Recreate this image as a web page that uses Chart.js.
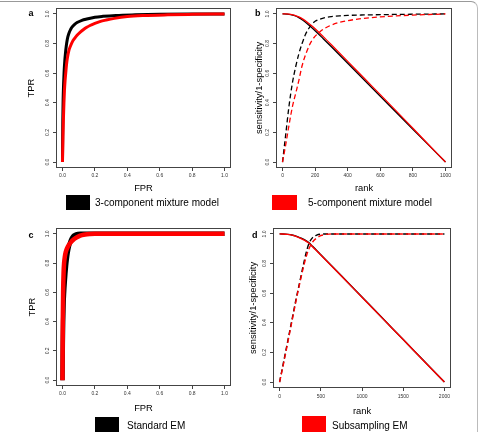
<!DOCTYPE html>
<html><head><meta charset="utf-8">
<script src="https://cdn.jsdelivr.net/npm/chart.js@4"></script>
<style>
html,body{margin:0;padding:0;background:#fff;}
body{width:483px;height:432px;position:relative;overflow:hidden;font-family:"Liberation Sans",Arial,sans-serif;}
canvas{position:absolute;}
.frame{position:absolute;left:-20px;top:1px;width:498px;height:460px;border-top:1px solid #999;border-right:1px solid #bbb;border-top-right-radius:7px;box-sizing:border-box;}
.lab{position:absolute;font-weight:bold;font-size:9px;line-height:9px;color:#000;}
.lbox{position:absolute;}
.ltxt{position:absolute;font-size:10px;line-height:15px;white-space:nowrap;color:#000;}
</style></head><body>
<div class="frame"></div>
<canvas id="ca" width="241" height="215" style="left:0;top:0"></canvas>
<canvas id="cb" width="242" height="215" style="left:241px;top:0"></canvas>
<canvas id="cc" width="241" height="217" style="left:0;top:215px"></canvas>
<canvas id="cd" width="242" height="217" style="left:241px;top:215px"></canvas>
<div class="lab" style="left:28.5px;top:9.4px">a</div>
<div class="lab" style="left:255px;top:9.4px">b</div>
<div class="lab" style="left:28.5px;top:231.4px">c</div>
<div class="lab" style="left:252px;top:231.4px">d</div>
<div class="lbox" style="left:66px;top:195px;width:24px;height:15px;background:#000"></div>
<div class="ltxt" style="left:95px;top:195px">3-component mixture model</div>
<div class="lbox" style="left:272px;top:195px;width:25px;height:15px;background:#ff0000"></div>
<div class="ltxt" style="left:308px;top:195px">5-component mixture model</div>
<div class="lbox" style="left:95px;top:417px;width:24px;height:15px;background:#000"></div>
<div class="ltxt" style="left:127px;top:418px">Standard EM</div>
<div class="lbox" style="left:302px;top:416px;width:24px;height:16px;background:#ff0000"></div>
<div class="ltxt" style="left:332px;top:418px">Subsampling EM</div>
<script>
// ---------- data ----------
const rocTicks = [0, 0.2, 0.4, 0.6, 0.8, 1.0];
const bRankTicks = [0, 200, 400, 600, 800, 1000];
const dRankTicks = [0, 500, 1000, 1500, 2000];

// panel a: ROC (3-component = black, 5-component = red)
const aBlackFPR = [0, 0.002, 0.004, 0.007, 0.01, 0.014, 0.018, 0.023, 0.03, 0.04, 0.05, 0.06, 0.075, 0.09, 0.12, 0.15, 0.2, 0.25, 0.33, 0.45, 0.6, 0.8, 1.0];
const aBlackTPR = [0, 0.28, 0.42, 0.53, 0.61, 0.68, 0.73, 0.78, 0.83, 0.87, 0.895, 0.913, 0.93, 0.942, 0.957, 0.966, 0.978, 0.984, 0.99, 0.994, 0.997, 0.999, 1.0];
const aRedFPR = [0, 0.003, 0.006, 0.009, 0.012, 0.016, 0.02, 0.025, 0.03, 0.04, 0.05, 0.06, 0.075, 0.09, 0.11, 0.13, 0.15, 0.17, 0.2, 0.23, 0.27, 0.32, 0.4, 0.5, 0.65, 0.8, 1.0];
const aRedTPR = [0, 0.17, 0.3, 0.4, 0.48, 0.55, 0.6, 0.66, 0.7, 0.755, 0.785, 0.81, 0.835, 0.856, 0.877, 0.895, 0.91, 0.922, 0.936, 0.948, 0.959, 0.97, 0.982, 0.989, 0.994, 0.997, 1.0];

// panel b: sensitivity (dashed) and 1-specificity (solid) vs rank
const bBlackSensRank = [0, 20, 40, 60, 80, 100, 120, 140, 160, 180, 200, 230, 260, 300, 350, 400, 500, 600, 800, 1000];
const bBlackSens = [0, 0.19, 0.38, 0.53, 0.64, 0.73, 0.8, 0.86, 0.9, 0.93, 0.95, 0.965, 0.975, 0.982, 0.987, 0.99, 0.993, 0.995, 0.998, 1.0];
const bRedSensRank = [0, 20, 40, 60, 80, 100, 120, 150, 180, 230, 290, 350, 400, 500, 600, 700, 800, 900, 1000];
const bRedSens = [0, 0.12, 0.25, 0.37, 0.46, 0.55, 0.65, 0.75, 0.82, 0.88, 0.92, 0.943, 0.955, 0.97, 0.98, 0.987, 0.992, 0.996, 1.0];
const bSpecRank = [0, 25, 50, 75, 100, 125, 150, 175, 200, 250, 300, 400, 500, 600, 700, 800, 900, 1000];
const bBlackSpec = [1, 0.999, 0.996, 0.988, 0.975, 0.957, 0.936, 0.912, 0.887, 0.833, 0.778, 0.667, 0.556, 0.444, 0.333, 0.222, 0.111, 0];
const bRedSpec = [1, 1, 0.997, 0.991, 0.98, 0.965, 0.946, 0.924, 0.9, 0.847, 0.792, 0.68, 0.567, 0.455, 0.342, 0.228, 0.114, 0];

// panel c: ROC (Standard EM = black, Subsampling EM = red)
const cBlackFPR = [0, 0.002, 0.004, 0.007, 0.01, 0.014, 0.018, 0.022, 0.027, 0.032, 0.04, 0.048, 0.056, 0.065, 0.075, 0.085, 0.095, 0.11, 0.15, 0.3, 1.0];
const cBlackTPR = [0, 0.25, 0.4, 0.53, 0.6, 0.67, 0.73, 0.78, 0.83, 0.87, 0.915, 0.945, 0.966, 0.982, 0.991, 0.996, 0.999, 1.0, 1.0, 1.0, 1.0];
const cRedFPR = [0, 0.002, 0.004, 0.007, 0.01, 0.014, 0.02, 0.03, 0.04, 0.05, 0.065, 0.08, 0.1, 0.12, 0.14, 0.17, 0.2, 0.3, 1.0];
const cRedTPR = [0, 0.4, 0.6, 0.74, 0.8, 0.84, 0.875, 0.905, 0.925, 0.94, 0.958, 0.971, 0.983, 0.991, 0.996, 0.999, 1.0, 1.0, 1.0];

// panel d
const dBlackSensRank = [0, 50, 100, 150, 200, 250, 300, 330, 360, 400, 450, 500, 600, 2000];
const dBlackSens = [0, 0.14, 0.28, 0.42, 0.56, 0.69, 0.82, 0.89, 0.94, 0.975, 0.992, 0.998, 1.0, 1.0];
const dRedSensRank = [0, 50, 100, 150, 200, 250, 300, 330, 360, 400, 450, 500, 550, 600, 700, 2000];
const dRedSens = [0, 0.13, 0.27, 0.41, 0.55, 0.68, 0.8, 0.86, 0.905, 0.945, 0.972, 0.988, 0.996, 0.999, 1.0, 1.0];
const dSpecRank = [0, 100, 150, 200, 250, 300, 350, 400, 450, 500, 750, 1000, 1250, 1500, 1750, 2000];
const dBlackSpec = [1, 0.997, 0.993, 0.985, 0.974, 0.961, 0.943, 0.916, 0.888, 0.859, 0.717, 0.574, 0.431, 0.287, 0.144, 0];
const dRedSpec = [1, 0.997, 0.992, 0.984, 0.972, 0.958, 0.94, 0.914, 0.886, 0.858, 0.716, 0.573, 0.43, 0.287, 0.143, 0];

// ---------- rendering ----------
const FONT = '"Liberation Sans", Arial, Helvetica, sans-serif';
const BLACK = '#000000', RED = '#ff0000';
function pts(xs, ys) { return xs.map((x, i) => ({ x: x, y: ys[i] })); }
function line(xs, ys, color, width, dash, order) {
  return { data: pts(xs, ys), borderColor: color, borderWidth: width, borderDash: dash || [],
    pointRadius: 0, fill: false, cubicInterpolationMode: 'monotone', order: order };
}
const boxPlugin = {
  id: 'rbox',
  afterDraw(chart) {
    const { ctx, chartArea: a } = chart;
    ctx.save();
    ctx.strokeStyle = '#444';
    ctx.lineWidth = 1;
    ctx.strokeRect(a.left + 0.5, a.top + 0.5, a.right - a.left - 1, a.bottom - a.top - 1);
    ctx.restore();
  }
};
function axis(o) {
  return {
    type: 'linear', position: o.pos, min: o.min, max: o.max,
    afterBuildTicks: s => { s.ticks = o.ticks.map(v => ({ value: v })); },
    afterFit: s => { if (o.pos === 'bottom') s.height = o.size; else s.width = o.size; },
    grid: { display: true, drawOnChartArea: false, drawTicks: true, tickLength: 3, color: '#444', lineWidth: 1 },
    border: { display: false },
    ticks: Object.assign({ font: { family: FONT, size: 5 }, color: '#333', padding: o.tpad, autoSkip: false,
      callback: o.fmt }, o.pos === 'left' ? { minRotation: 90, maxRotation: 90, crossAlign: 'center' } : { maxRotation: 0 }),
    title: { display: true, text: o.title, font: { family: FONT, size: 9.4 }, color: '#000',
      padding: o.pos === 'left' ? { top: o.tipad, bottom: 0 } : { top: 0, bottom: o.tipad } }
  };
}
function make(id, datasets, xs, ys, pad) {
  return new Chart(document.getElementById(id), {
    type: 'line',
    data: { datasets: datasets },
    options: {
      responsive: false, animation: false, devicePixelRatio: 1,
      layout: { padding: pad },
      plugins: { legend: { display: false }, tooltip: { enabled: false } },
      scales: { x: axis(xs), y: axis(ys) }
    },
    plugins: [boxPlugin]
  });
}
const f1 = v => Number(v).toFixed(1);
const f0 = v => String(Math.round(v));

make('ca', [
  line(aRedFPR, aRedTPR, RED, 3, null, 0),
  line(aBlackFPR, aBlackTPR, BLACK, 3, null, 1)
], { pos: 'bottom', min: -0.04, max: 1.04, ticks: rocTicks, size: 28, tpad: 2, tipad: 2, fmt: f1, title: 'FPR' },
   { pos: 'left', min: -0.04, max: 1.04, ticks: rocTicks, size: 56, tpad: 2, tipad: 26, fmt: f1, title: 'TPR' },
   { left: 0, top: 8, right: 10, bottom: 19 });

make('cb', [
  line(bRedSensRank, bRedSens, RED, 1.3, [5, 3], 0),
  line(bSpecRank, bRedSpec, RED, 1.3, null, 1),
  line(bBlackSensRank, bBlackSens, BLACK, 1.3, [5, 3], 2),
  line(bSpecRank, bBlackSpec, BLACK, 1.3, null, 3)
], { pos: 'bottom', min: -40, max: 1040, ticks: bRankTicks, size: 28, tpad: 2, tipad: 2, fmt: f0, title: 'rank' },
   { pos: 'left', min: -0.04, max: 1.04, ticks: rocTicks, size: 35, tpad: 2, tipad: 12.9, fmt: f1, title: 'sensitivity/1-specificity' },
   { left: 0, top: 8, right: 31, bottom: 19 });

make('cc', [
  line(cRedFPR, cRedTPR, RED, 4.5, null, 0),
  line(cBlackFPR, cBlackTPR, BLACK, 4.5, null, 1)
], { pos: 'bottom', min: -0.04, max: 1.04, ticks: rocTicks, size: 28, tpad: 1.5, tipad: 0.4, fmt: f1, title: 'FPR' },
   { pos: 'left', min: -0.04, max: 1.04, ticks: rocTicks, size: 56, tpad: 2, tipad: 26.4, fmt: f1, title: 'TPR' },
   { left: 0, top: 13, right: 10, bottom: 18 });

make('cd', [
  line(dRedSensRank, dRedSens, RED, 1.4, [5, 3], 0),
  line(dSpecRank, dRedSpec, RED, 1.4, null, 1),
  line(dBlackSensRank, dBlackSens, BLACK, 1.4, [5, 3], 2),
  line(dSpecRank, dBlackSpec, BLACK, 1.4, null, 3)
], { pos: 'bottom', min: -80, max: 2080, ticks: dRankTicks, size: 30, tpad: 3, tipad: 1.4, fmt: f0, title: 'rank' },
   { pos: 'left', min: -0.04, max: 1.04, ticks: rocTicks, size: 32, tpad: 2, tipad: 7, fmt: f1, title: 'sensitivity/1-specificity' },
   { left: 0, top: 13, right: 32, bottom: 14 });
</script>
</body></html>
